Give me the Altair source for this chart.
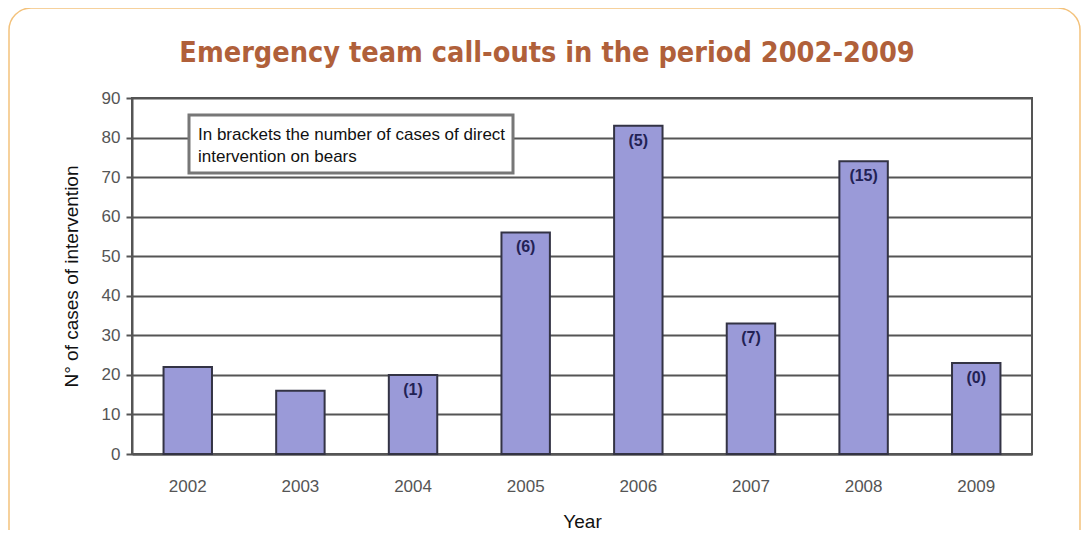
import altair as alt
import pandas as pd

years = ["2002", "2003", "2004", "2005", "2006", "2007", "2008", "2009"]
cases = [22, 16, 20, 56, 83, 33, 74, 23]
bear_cases = ["", "", "(1)", "(6)", "(5)", "(7)", "(15)", "(0)"]
y_ticks = [0, 10, 20, 30, 40, 50, 60, 70, 80, 90]
title_text = "Emergency team call-outs in the period 2002-2009"
note_lines = ["In brackets the number of cases of direct", "intervention on bears"]

df = pd.DataFrame({"Year": years, "Cases": cases, "Bears": bear_cases})

x_enc = alt.X("Year:N", sort=years, title="Year",
              scale=alt.Scale(paddingInner=0.57, paddingOuter=0.28),
              axis=alt.Axis(labelAngle=0, labelPadding=24, labelFontSize=17,
                            labelColor="#555555", titleFontSize=19, titleFontWeight="normal",
                            titleColor="#111111", titlePadding=18, ticks=False,
                            domainColor="#555555", domainWidth=2,
                            labelFont="Liberation Sans", titleFont="Liberation Sans"))
y_enc = alt.Y("Cases:Q", title="N° of cases of intervention",
              scale=alt.Scale(domain=[0, 90], nice=False),
              axis=alt.Axis(values=y_ticks, labelFontSize=17, labelColor="#555555",
                            labelPadding=6, tickSize=6, tickColor="#555555", tickWidth=2,
                            grid=True, gridColor="#555555", gridWidth=2,
                            domainColor="#555555", domainWidth=2, labelOverlap=False,
                            titleFontSize=19, titleFontWeight="normal", titleColor="#111111",
                            titlePadding=20, labelFont="Liberation Sans",
                            titleFont="Liberation Sans"))

base = alt.Chart(df)

bars = base.mark_bar(color="#9a9ad8", stroke="#333344", strokeWidth=2).encode(x=x_enc, y=y_enc)

labels = base.mark_text(baseline="top", dy=7, fontSize=16, fontWeight="bold",
                        color="#222255", font="Liberation Sans").encode(
    x=x_enc, y=y_enc, text="Bears:N")

frame = alt.Chart(pd.DataFrame({"k": [0]})).mark_rect(
    fill=None, stroke="#f3c27c", strokeWidth=1.5, cornerRadius=22).encode(
    x=alt.value(-123), x2=alt.value(948), y=alt.value(-90), y2=alt.value(470))

note_box = alt.Chart(pd.DataFrame({"k": [0]})).mark_rect(
    fill="white", stroke="#777777", strokeWidth=3).encode(
    x=alt.value(57), x2=alt.value(381), y=alt.value(17), y2=alt.value(75))

note_text = alt.Chart(pd.DataFrame({"t": [note_lines]})).mark_text(
    align="left", baseline="alphabetic", fontSize=17, lineHeight=22,
    color="#111111", font="Liberation Sans").encode(
    x=alt.value(66), y=alt.value(42), text="t")

title = alt.Chart(pd.DataFrame({"t": [title_text]})).mark_text(
    align="center", baseline="alphabetic", fontSize=28.6, fontWeight="bold",
    color="#b0603a", font="'DejaVu Sans Condensed', 'Roboto Condensed', Roboto, sans-serif").encode(
    x=alt.value(415), y=alt.value(-36), text="t")

chart = alt.layer(frame, bars, labels, note_box, note_text, title).properties(
    width=900, height=356,
    autosize=alt.AutoSizeParams(type="none"),
    padding={"left": 124, "top": 90, "right": 50, "bottom": 76},
    background="white",
).configure_view(stroke="#555555", strokeWidth=2)

chart.save("out.html", embed_options={"renderer": "svg", "actions": False})
